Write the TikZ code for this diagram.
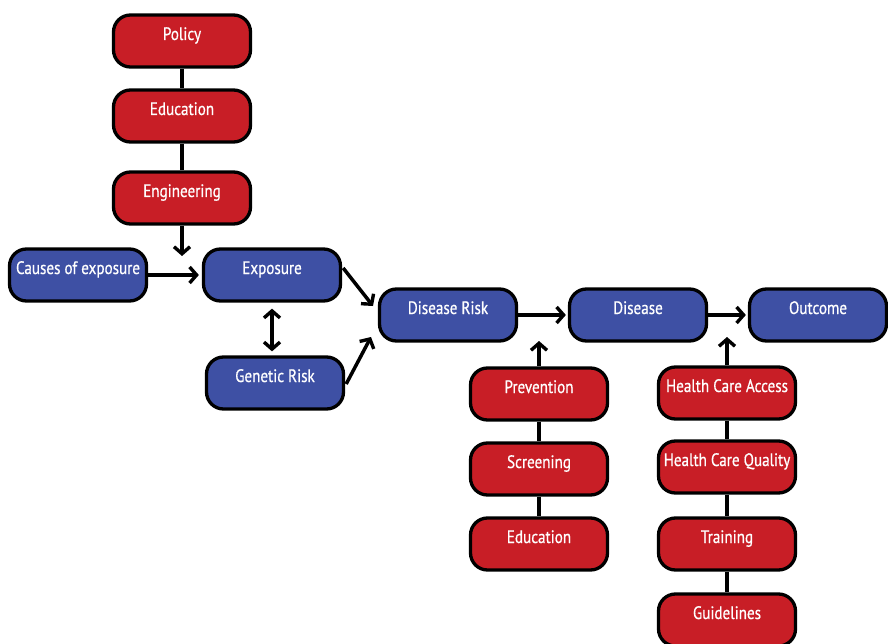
\documentclass[tikz,border=0pt]{standalone}
\usepackage{fontspec}
\setmainfont{PT Sans}[FakeStretch=0.84,FakeBold=0.6]
\usetikzlibrary{arrows.meta}
\definecolor{boxred}{RGB}{200,30,38}
\definecolor{boxblue}{RGB}{62,80,164}
\begin{document}
\begin{tikzpicture}[x=1pt,y=-1pt,
  bx/.style={rectangle,rounded corners=17pt,draw=black,line width=3.3pt,
    minimum width=137pt,minimum height=52pt,inner sep=0pt,
    text height=10pt,text depth=12pt,text=white,
    font=\fontsize{18}{20}\selectfont},
  rbox/.style={bx,fill=boxred},
  bbox/.style={bx,fill=boxblue},
  ln/.style={line width=3.5pt},
  tip/.tip={Straight Barb[length=7pt,width=16pt,line width=3.4pt]},
  arr/.style={line width=3.5pt,-tip},
  dbl/.style={line width=3.5pt,tip-tip}
]
\useasboundingbox[fill=white] (0,0) rectangle (888,644);
% top stack
\node[rbox] (pol) at (182,41) {Policy};
\node[rbox] (edu) at (182,116) {Education};
\node[rbox] (eng) at (182,198) {Engineering};
% blue row
\node[bbox] (cau) at (78,275) {Causes of exposure};
\node[bbox] (exp) at (272,275) {Exposure};
\node[bbox] (gen) at (275,383) {Genetic Risk};
\node[bbox] (dr) at (448,315) {Disease Risk};
\node[bbox] (dis) at (638,315) {Disease};
\node[bbox] (out) at (818,315) {Outcome};
% middle stack
\node[rbox] (pre) at (539,394) {Prevention};
\node[rbox] (scr) at (539,469) {Screening};
\node[rbox] (ed2) at (539,544) {Education};
% right stack
\node[rbox] (hca) at (727,393) {Health Care Access};
\node[rbox] (hcq) at (727,467) {Health Care Quality};
\node[rbox] (tra) at (727,544) {Training};
\node[rbox] (gui) at (727,620) {Guidelines};
% free ends
\coordinate (engtip) at (182,256);
\coordinate (t1) at (373,306);
\coordinate (t2) at (371,337);
\coordinate (pretip) at (539,341);
\coordinate (hcatip) at (727,337);
% connectors
\draw[ln] (pol) -- (edu);
\draw[ln] (edu) -- (eng);
\draw[arr] (eng) -- (engtip);
\draw[arr,shorten >=3pt] (cau) -- (exp);
\draw[dbl,shorten <=6pt,shorten >=4pt] (exp.south) -- (exp.south |- gen.north);
\draw[arr] ([xshift=1pt,yshift=7pt]exp.east) -- (t1);
\draw[arr] ([xshift=1pt,yshift=-1pt]gen.east) -- (t2);
\draw[arr,shorten >=2pt] (dr) -- (dis);
\draw[arr,shorten >=2pt] (dis) -- (out);
\draw[ln] (pre) -- (scr);
\draw[ln] (scr) -- (ed2);
\draw[arr] (pre) -- (pretip);
\draw[ln] (hca) -- (hcq);
\draw[ln] (hcq) -- (tra);
\draw[ln] (tra) -- (gui);
\draw[arr] (hca) -- (hcatip);
\end{tikzpicture}
\end{document}
